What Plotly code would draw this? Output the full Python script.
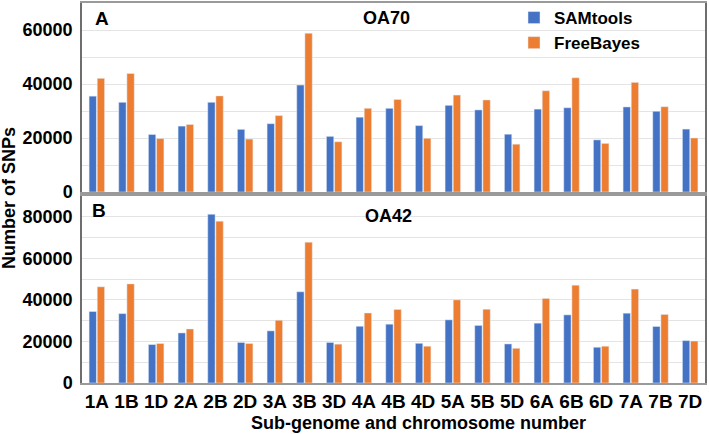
import plotly.graph_objects as go
from plotly.subplots import make_subplots

categories = ["1A", "1B", "1D", "2A", "2B", "2D", "3A", "3B", "3D", "4A", "4B",
              "4D", "5A", "5B", "5D", "6A", "6B", "6D", "7A", "7B", "7D"]

oa70_samtools = [35500, 33200, 21300, 24400, 33200, 23200, 25300, 39600, 20600, 27700, 31000,
                 24600, 32100, 30400, 21400, 30700, 31200, 19300, 31500, 29900, 23300]
oa70_freebayes = [42100, 43900, 19800, 25000, 35600, 19600, 28300, 58800, 18600, 31000, 34300,
                  19900, 35900, 34100, 17700, 37500, 42300, 18000, 40600, 31600, 20000]

oa42_samtools = [34400, 33400, 18500, 24100, 81200, 19500, 25100, 43900, 19500, 27300, 28300,
                 19100, 30400, 27700, 18800, 28800, 32800, 17200, 33600, 27200, 20400]
oa42_freebayes = [46300, 47700, 19000, 26000, 77900, 19000, 30200, 67800, 18700, 33700, 35400,
                  17700, 40000, 35500, 16700, 40700, 47100, 17700, 45200, 33000, 20200]

BLUE = "#4472C4"
ORANGE = "#ED7D31"
FONT = "Arial, Liberation Sans, sans-serif"

fig = make_subplots(rows=2, cols=1, shared_xaxes=True, vertical_spacing=0.0)

fig.add_trace(go.Bar(x=categories, y=oa70_samtools, name="SAMtools", marker_color=BLUE),
              row=1, col=1)
fig.add_trace(go.Bar(x=categories, y=oa70_freebayes, name="FreeBayes", marker_color=ORANGE),
              row=1, col=1)
fig.add_trace(go.Bar(x=categories, y=oa42_samtools, name="SAMtools", marker_color=BLUE,
                     showlegend=False), row=2, col=1)
fig.add_trace(go.Bar(x=categories, y=oa42_freebayes, name="FreeBayes", marker_color=ORANGE,
                     showlegend=False), row=2, col=1)

W, H = 709, 434
L, R, T, B = 82, 4, 3, 51
ph = H - T - B  # 380

fig.update_layout(
    width=W, height=H,
    margin=dict(l=L, r=R, t=T, b=B, autoexpand=False),
    paper_bgcolor="white", plot_bgcolor="white",
    barmode="group", bargap=0.45, bargroupgap=0.1,
    font=dict(family=FONT, color="black"),
    showlegend=True,
    legend=dict(xref="container", yref="container", x=514 / W, y=1 + 4 / H,
                xanchor="left", yanchor="top",
                bgcolor="rgba(0,0,0,0)", font=dict(size=17, weight="bold"),
                itemwidth=30, traceorder="normal"),
)

grid = "#E4E4E4"
fig.update_yaxes(row=1, col=1, range=[0, 70000], domain=[(383 - 192) / ph, 1.0])
fig.update_yaxes(row=2, col=1, range=[0, 90000], domain=[0, (383 - 196) / ph])
for r in (1, 2):
    fig.update_yaxes(row=r, col=1, dtick=20000, showgrid=True, gridcolor=grid, gridwidth=1,
                     minor=dict(dtick=10000, showgrid=True, gridcolor=grid, gridwidth=1),
                     tickfont=dict(size=18, weight="bold", family=FONT), ticks="",
                     showline=True, linecolor="#6E6E6E", linewidth=1.5, mirror=True,
                     zeroline=False, tickformat="d", ticklabelstandoff=4)
    fig.update_xaxes(row=r, col=1, showline=True, linecolor="#9A9A9A", linewidth=1.5,
                     mirror=True, showgrid=False, ticks="")
fig.update_xaxes(row=1, col=1, showticklabels=False)
fig.update_xaxes(row=2, col=1, showticklabels=True,
                 tickfont=dict(size=19, weight="bold", family=FONT))

def px_x(x):
    return (x - L) / (W - L - R)

def px_y(y):
    return (H - B - y) / ph

ann = [
    ("A", 102, 18, 19),
    ("OA70", 386, 18, 18),
    ("B", 99, 211, 19),
    ("OA42", 388, 216, 18),
]
for text, x, y, s in ann:
    fig.add_annotation(text=text, x=px_x(x), y=px_y(y), xref="paper", yref="paper",
                       showarrow=False, font=dict(size=s, weight="bold", family=FONT),
                       xanchor="center", yanchor="middle")

fig.add_annotation(text="Number of SNPs", x=px_x(9), y=px_y(198), xref="paper", yref="paper",
                   showarrow=False, textangle=-90,
                   font=dict(size=18, weight="bold", family=FONT),
                   xanchor="center", yanchor="middle")
fig.add_annotation(text="Sub-genome and chromosome number", x=px_x(418), y=px_y(423),
                   xref="paper", yref="paper", showarrow=False,
                   font=dict(size=18, weight="bold", family=FONT),
                   xanchor="center", yanchor="middle")

fig.write_html("out.html", config={"displayModeBar": False},
               post_script="document.body.style.margin='0';document.body.style.overflow='hidden';")
